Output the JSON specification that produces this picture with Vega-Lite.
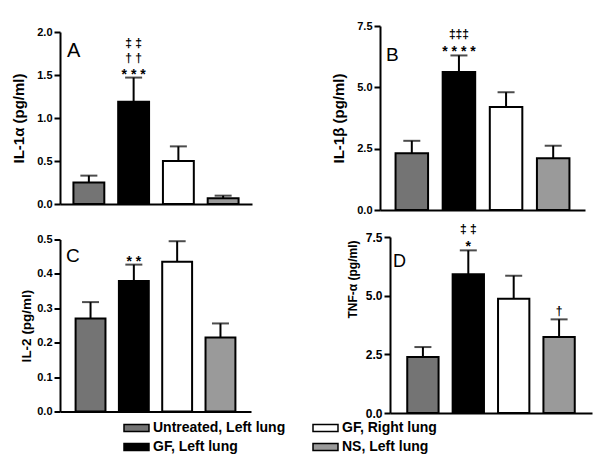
{
  "$schema": "https://vega.github.io/schema/vega-lite/v6.json",
  "padding": {"left": 11, "top": 20, "right": 5, "bottom": 5},
  "background": "white",
  "datasets": {
    "cyto": [
      {"panel": "A", "group": "Untreated, Left lung", "value": 0.25, "err": 0.33},
      {"panel": "A", "group": "GF, Left lung", "value": 1.19, "err": 1.47, "l1": "* * *", "l2": "† †", "l3": "‡ ‡"},
      {"panel": "A", "group": "GF, Right lung", "value": 0.50, "err": 0.67},
      {"panel": "A", "group": "NS, Left lung", "value": 0.066, "err": 0.097},
      {"panel": "B", "group": "Untreated, Left lung", "value": 2.31, "err": 2.82},
      {"panel": "B", "group": "GF, Left lung", "value": 5.63, "err": 6.30, "l1": "* * * *", "l2": "‡‡‡"},
      {"panel": "B", "group": "GF, Right lung", "value": 4.20, "err": 4.80},
      {"panel": "B", "group": "NS, Left lung", "value": 2.11, "err": 2.62},
      {"panel": "C", "group": "Untreated, Left lung", "value": 0.270, "err": 0.318},
      {"panel": "C", "group": "GF, Left lung", "value": 0.379, "err": 0.427, "l1": "* *"},
      {"panel": "C", "group": "GF, Right lung", "value": 0.435, "err": 0.495},
      {"panel": "C", "group": "NS, Left lung", "value": 0.215, "err": 0.256},
      {"panel": "D", "group": "Untreated, Left lung", "value": 2.39, "err": 2.81},
      {"panel": "D", "group": "GF, Left lung", "value": 5.91, "err": 6.93, "l1": "*", "l2": "‡ ‡"},
      {"panel": "D", "group": "GF, Right lung", "value": 4.87, "err": 5.85},
      {"panel": "D", "group": "NS, Left lung", "value": 3.24, "err": 3.99, "dag": "†"}
    ]
  },
  "config": {
    "view": {"stroke": null},
    "font": "Liberation Sans",
    "axis": {
      "domainColor": "black", "domainWidth": 2, "tickColor": "black", "tickWidth": 2, "tickSize": 6,
      "labelColor": "black", "labelFont": "Liberation Sans", "labelFontWeight": "bold", "labelFontSize": 11, "labelPadding": 2, "labelOverlap": false,
      "titleColor": "black", "titleFont": "Liberation Sans", "titleFontWeight": "bold", "grid": false
    },
    "title": {"color": "black", "font": "Liberation Sans", "fontWeight": "normal", "anchor": "start", "frame": "group", "orient": "top", "offset": 0, "baseline": "alphabetic"},
    "legend": {"title": null, "orient": "none", "legendX": 56, "legendY": 394, "columns": 2, "symbolType": "M0,-0.5H3.57V0.5H0Z", "symbolSize": 196, "symbolStrokeColor": "black", "symbolStrokeWidth": 1.5, "symbolOpacity": 1, "labelFontSize": 14, "labelFontWeight": "bold", "labelFont": "Liberation Sans", "labelColor": "black", "labelOffset": 21, "labelLimit": 300, "columnPadding": 19, "rowPadding": 4, "padding": 0},
    "text": {"color": "black", "fontSize": 14, "fontWeight": "bold", "font": "Liberation Sans", "align": "center", "baseline": "bottom"}
  },
  "spacing": 8,
  "vconcat": [
    {
      "hconcat": [
        {
          "width": 192, "height": 172,
          "title": {"text": "A", "fontSize": 20, "dx": 7, "dy": 39},
          "data": {"name": "cyto"},
          "transform": [{"filter": "datum.panel === 'A'"}],
          "encoding": {"x": {"field": "group", "type": "nominal", "sort": ["Untreated, Left lung", "GF, Left lung", "GF, Right lung", "NS, Left lung"], "scale": {"paddingInner": 0.31, "paddingOuter": 0.3}, "axis": {"labels": false, "ticks": false, "title": null}}},
          "layer": [
            {"mark": {"type": "bar", "stroke": "black", "strokeWidth": 2},
             "encoding": {
               "y": {"field": "value", "type": "quantitative", "title": "IL-1α (pg/ml)", "scale": {"domain": [0, 2], "nice": false}, "axis": {"values": [0, 0.5, 1, 1.5, 2], "format": ".1f", "titleFontSize": 15, "titlePadding": 10}},
               "fill": {"field": "group", "type": "nominal", "scale": {"domain": ["Untreated, Left lung", "GF, Left lung", "GF, Right lung", "NS, Left lung"], "range": ["#747474", "#000000", "#ffffff", "#9a9a9a"]}}
             }},
            {"mark": {"type": "rule", "color": "black", "strokeWidth": 2},
             "encoding": {"y": {"field": "value", "type": "quantitative", "title": "IL-1α (pg/ml)"}, "y2": {"field": "err"}}},
            {"mark": {"type": "tick", "orient": "horizontal", "size": 17, "thickness": 2, "color": "black"},
             "encoding": {"y": {"field": "err", "type": "quantitative", "title": "IL-1α (pg/ml)"}}},
            {"transform": [{"filter": "isValid(datum.l1)"}], "mark": {"type": "text", "dy": 4},
             "encoding": {"y": {"field": "err", "type": "quantitative", "title": "IL-1α (pg/ml)"}, "text": {"field": "l1"}}},
            {"transform": [{"filter": "isValid(datum.l2)"}], "mark": {"type": "text", "dy": -13, "fontSize": 12},
             "encoding": {"y": {"field": "err", "type": "quantitative", "title": "IL-1α (pg/ml)"}, "text": {"field": "l2"}}},
            {"transform": [{"filter": "isValid(datum.l3)"}], "mark": {"type": "text", "dy": -28, "fontSize": 12},
             "encoding": {"y": {"field": "err", "type": "quantitative", "title": "IL-1α (pg/ml)"}, "text": {"field": "l3"}}}
          ]
        },
        {
          "width": 205, "height": 184,
          "title": {"text": "B", "fontSize": 19, "dx": 6, "dy": 49},
          "data": {"name": "cyto"},
          "transform": [{"filter": "datum.panel === 'B'"}],
          "encoding": {"x": {"field": "group", "type": "nominal", "sort": ["Untreated, Left lung", "GF, Left lung", "GF, Right lung", "NS, Left lung"], "scale": {"paddingInner": 0.31, "paddingOuter": 0.33}, "axis": {"labels": false, "ticks": false, "title": null}}},
          "layer": [
            {"mark": {"type": "bar", "stroke": "black", "strokeWidth": 2},
             "encoding": {
               "y": {"field": "value", "type": "quantitative", "title": "IL-1β (pg/ml)", "scale": {"domain": [0, 7.5], "nice": false}, "axis": {"values": [0, 2.5, 5, 7.5], "format": ".1f", "titleFontSize": 15, "titlePadding": 10}},
               "fill": {"field": "group", "type": "nominal", "scale": {"domain": ["Untreated, Left lung", "GF, Left lung", "GF, Right lung", "NS, Left lung"], "range": ["#747474", "#000000", "#ffffff", "#9a9a9a"]}}
             }},
            {"mark": {"type": "rule", "color": "black", "strokeWidth": 2},
             "encoding": {"y": {"field": "value", "type": "quantitative", "title": "IL-1β (pg/ml)"}, "y2": {"field": "err"}}},
            {"mark": {"type": "tick", "orient": "horizontal", "size": 17, "thickness": 2, "color": "black"},
             "encoding": {"y": {"field": "err", "type": "quantitative", "title": "IL-1β (pg/ml)"}}},
            {"transform": [{"filter": "isValid(datum.l1)"}], "mark": {"type": "text", "dy": 4},
             "encoding": {"y": {"field": "err", "type": "quantitative", "title": "IL-1β (pg/ml)"}, "text": {"field": "l1"}}},
            {"transform": [{"filter": "isValid(datum.l2)"}], "mark": {"type": "text", "dy": -14, "fontSize": 12},
             "encoding": {"y": {"field": "err", "type": "quantitative", "title": "IL-1β (pg/ml)"}, "text": {"field": "l2"}}}
          ]
        }
      ],
      "spacing": 79,
      "center": true
    },
    {
      "hconcat": [
        {
          "width": 191, "height": 172,
          "title": {"text": "C", "fontSize": 19, "dx": 6, "dy": 36},
          "data": {"name": "cyto"},
          "transform": [{"filter": "datum.panel === 'C'"}],
          "encoding": {"x": {"field": "group", "type": "nominal", "sort": ["Untreated, Left lung", "GF, Left lung", "GF, Right lung", "NS, Left lung"], "scale": {"paddingInner": 0.31, "paddingOuter": 0.36}, "axis": {"labels": false, "ticks": false, "title": null}}},
          "layer": [
            {"mark": {"type": "bar", "stroke": "black", "strokeWidth": 2},
             "encoding": {
               "y": {"field": "value", "type": "quantitative", "title": "IL-2 (pg/ml)", "scale": {"domain": [0, 0.5], "nice": false}, "axis": {"values": [0, 0.1, 0.2, 0.3, 0.4, 0.5], "format": ".1f", "labelOverlap": false, "labelSeparation": 0, "tickCount": 6, "titleFontSize": 13.5, "titlePadding": 3.5}},
               "fill": {"field": "group", "type": "nominal", "scale": {"domain": ["Untreated, Left lung", "GF, Left lung", "GF, Right lung", "NS, Left lung"], "range": ["#747474", "#000000", "#ffffff", "#9a9a9a"]}}
             }},
            {"mark": {"type": "rule", "color": "black", "strokeWidth": 2},
             "encoding": {"y": {"field": "value", "type": "quantitative", "title": "IL-2 (pg/ml)"}, "y2": {"field": "err"}}},
            {"mark": {"type": "tick", "orient": "horizontal", "size": 17, "thickness": 2, "color": "black"},
             "encoding": {"y": {"field": "err", "type": "quantitative", "title": "IL-2 (pg/ml)"}}},
            {"transform": [{"filter": "isValid(datum.l1)"}], "mark": {"type": "text", "dy": 4},
             "encoding": {"y": {"field": "err", "type": "quantitative", "title": "IL-2 (pg/ml)"}, "text": {"field": "l1"}}}
          ]
        },
        {
          "width": 202, "height": 176,
          "title": {"text": "D", "fontSize": 18, "dx": 3, "dy": 52},
          "data": {"name": "cyto"},
          "transform": [{"filter": "datum.panel === 'D'"}],
          "encoding": {"x": {"field": "group", "type": "nominal", "sort": ["Untreated, Left lung", "GF, Left lung", "GF, Right lung", "NS, Left lung"], "scale": {"paddingInner": 0.31, "paddingOuter": 0.38}, "axis": {"labels": false, "ticks": false, "title": null}}},
          "layer": [
            {"mark": {"type": "bar", "stroke": "black", "strokeWidth": 2},
             "encoding": {
               "y": {"field": "value", "type": "quantitative", "title": "TNF-α (pg/ml)", "scale": {"domain": [0, 7.5], "nice": false}, "axis": {"values": [0, 2.5, 5, 7.5], "format": ".1f", "titleFontSize": 12, "titlePadding": 6, "labelFontSize": 12, "titleY": 42}},
               "fill": {"field": "group", "type": "nominal", "scale": {"domain": ["Untreated, Left lung", "GF, Left lung", "GF, Right lung", "NS, Left lung"], "range": ["#747474", "#000000", "#ffffff", "#9a9a9a"]}}
             }},
            {"mark": {"type": "rule", "color": "black", "strokeWidth": 2},
             "encoding": {"y": {"field": "value", "type": "quantitative", "title": "TNF-α (pg/ml)"}, "y2": {"field": "err"}}},
            {"mark": {"type": "tick", "orient": "horizontal", "size": 17, "thickness": 2, "color": "black"},
             "encoding": {"y": {"field": "err", "type": "quantitative", "title": "TNF-α (pg/ml)"}}},
            {"transform": [{"filter": "isValid(datum.l1)"}], "mark": {"type": "text", "dy": 4},
             "encoding": {"y": {"field": "err", "type": "quantitative", "title": "TNF-α (pg/ml)"}, "text": {"field": "l1"}}},
            {"transform": [{"filter": "isValid(datum.l2)"}], "mark": {"type": "text", "dy": -14, "fontSize": 12},
             "encoding": {"y": {"field": "err", "type": "quantitative", "title": "TNF-α (pg/ml)"}, "text": {"field": "l2"}}},
            {"transform": [{"filter": "isValid(datum.dag)"}], "mark": {"type": "text", "dy": -1, "fontSize": 12},
             "encoding": {"y": {"field": "err", "type": "quantitative", "title": "TNF-α (pg/ml)"}, "text": {"field": "dag"}}}
          ]
        }
      ],
      "spacing": 95,
      "center": true
    }
  ]
}
